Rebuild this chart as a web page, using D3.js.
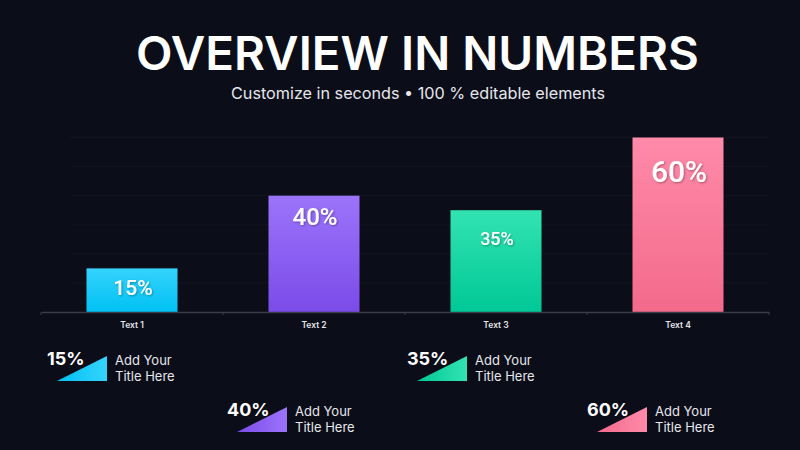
<!DOCTYPE html>
<html><head><meta charset="utf-8">
<script src="https://cdn.jsdelivr.net/npm/d3@7"></script>
<style>
html,body{margin:0;padding:0;background:#0b0d18;}
svg{display:block;}
</style></head>
<body><svg id="c" width="800" height="450"></svg>
<script>
const categories = ["Text 1","Text 2","Text 3","Text 4"];
const values = [15, 40, 35, 60];
const valueLabels = ["15%","40%","35%","60%"];
const legendTitles = ["Add Your","Title Here"];
const gridTicks = [10,20,30,40,50,60];

const colorsTop = ["#35d3fb","#9b74fa","#33e3b2","#ff8aa9"];
const colorsBot = ["#00c1f4","#7b4be9","#00c896","#f36a8b"];
const labelSize = [21,24,18,30];
const labelDy = [27,29,35,44];

const svg = d3.select("#c");
const W = 800, H = 450;
svg.append("rect").attr("width",W).attr("height",H).attr("fill","#0b0d18");

const defs = svg.append("defs");
categories.forEach((c,i)=>{
  const g = defs.append("linearGradient").attr("id","g"+i).attr("x1",0).attr("y1",0).attr("x2",0).attr("y2",1);
  g.append("stop").attr("offset","0%").attr("stop-color",colorsTop[i]);
  g.append("stop").attr("offset","100%").attr("stop-color",colorsBot[i]);
  const t = defs.append("linearGradient").attr("id","t"+i).attr("x1",0).attr("y1",0).attr("x2",1).attr("y2",0);
  t.append("stop").attr("offset","0%").attr("stop-color",colorsBot[i]);
  t.append("stop").attr("offset","100%").attr("stop-color",colorsTop[i]);
});
const f = defs.append("filter").attr("id","sh").attr("x","-20%").attr("y","-20%").attr("width","140%").attr("height","140%");
f.append("feDropShadow").attr("dx",1).attr("dy",1).attr("stdDeviation",0.8).attr("flood-color","#000").attr("flood-opacity",0.35);

// Title
svg.append("text").attr("x",417.5).attr("y",70).attr("text-anchor","middle")
  .attr("font-family","Inter, 'Open Sans', sans-serif").attr("font-weight",600).attr("font-size",46)
  .attr("textLength",563).attr("lengthAdjust","spacingAndGlyphs")
  .attr("fill","#ffffff").text("OVERVIEW IN NUMBERS");
svg.append("text").attr("x",418).attr("y",98.5).attr("text-anchor","middle")
  .attr("font-family","Inter, 'Open Sans', sans-serif").attr("font-weight",400).attr("font-size",16)
  .attr("textLength",374).attr("lengthAdjust","spacingAndGlyphs")
  .attr("fill","#e6e7ec").text("Customize in seconds \u2022 100 % editable elements");

// Scales
const x = d3.scaleBand().domain(categories).range([41,769]).paddingInner(0.5).paddingOuter(0.25);
const y = d3.scaleLinear().domain([0,60]).range([312,137.5]);

// Gridlines
svg.append("g").selectAll("line").data(gridTicks).join("line")
  .attr("x1",70).attr("x2",768).attr("y1",d=>y(d)).attr("y2",d=>y(d))
  .attr("stroke","#121520").attr("stroke-width",1);

// Bars
const bars = svg.append("g");
bars.selectAll("rect").data(values).join("rect")
  .attr("x",(d,i)=>x(categories[i])).attr("width",x.bandwidth())
  .attr("y",d=>y(d)).attr("height",d=>y(0)-y(d))
  .attr("fill",(d,i)=>`url(#g${i})`);

bars.selectAll("text").data(values).join("text")
  .attr("x",(d,i)=>x(categories[i])+x.bandwidth()/2+1)
  .attr("y",(d,i)=>y(d)+labelDy[i])
  .attr("text-anchor","middle")
  .attr("font-family","Roboto, 'DejaVu Sans', sans-serif").attr("font-weight",500)
  .attr("font-size",(d,i)=>labelSize[i])
  .attr("fill","#ffffff").attr("filter","url(#sh)")
  .text((d,i)=>valueLabels[i]);

// Axis
const axis = d3.axisBottom(x).tickSize(0).tickPadding(10);
const ax = svg.append("g").attr("transform","translate(0,312)").call(axis);
ax.select(".domain").attr("stroke","#3b3e4a").attr("stroke-width",1.5);
ax.selectAll(".tick text").attr("fill","#e4e5ea").attr("font-family","Inter, sans-serif")
  .attr("font-weight",600).attr("font-size",8.5);
// band boundary ticks
const bounds = categories.map(c=>x(c)-x.step()*x.paddingInner()/2).concat([769]);
ax.append("g").selectAll("line").data(bounds).join("line")
  .attr("x1",d=>d).attr("x2",d=>d).attr("y1",0).attr("y2",3)
  .attr("stroke","#3b3e4a").attr("stroke-width",1);

// Legend
const leg = svg.append("g");
values.forEach((v,i)=>{
  const gx = 47 + 180*i;
  const gy = (i%2===0) ? 0 : 51;
  const g = leg.append("g").attr("transform",`translate(${gx},${gy})`);
  g.append("path").attr("d",`M10,381 L60,381 L60,356 Z`).attr("fill",`url(#t${i})`);
  g.append("text").attr("x",0).attr("y",365)
    .attr("font-family","Inter, sans-serif").attr("font-weight",700).attr("font-size",18)
    .attr("fill","#ffffff").text(valueLabels[i]);
  legendTitles.forEach((t,j)=>{
    g.append("text").attr("x",68).attr("y",365+15.5*j)
      .attr("font-family","Inter, sans-serif").attr("font-weight",400).attr("font-size",13)
      .attr("fill","#e6e7ec").text(t);
  });
});
</script></body></html>
